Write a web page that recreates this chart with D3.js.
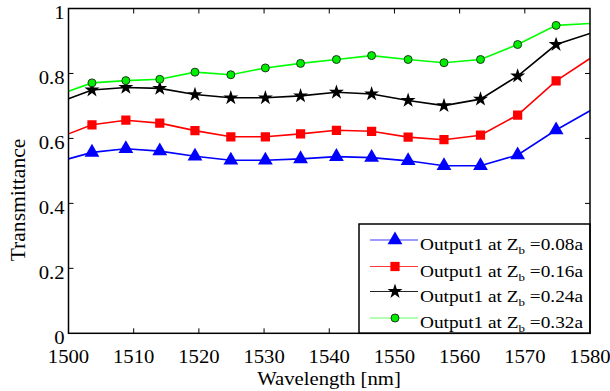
<!DOCTYPE html>
<html><head><meta charset="utf-8">
<script src="https://cdn.jsdelivr.net/npm/d3@7"></script>
<style>
html,body{margin:0;padding:0;background:#fff;}
</style></head>
<body>
<svg id="chart" width="610" height="391" font-family="'Liberation Serif', 'Times New Roman', Times, 'DejaVu Serif', serif"></svg>
<script>
const wavelengths = [1500, 1503.6, 1508.8, 1514, 1519.4, 1524.9, 1530.2, 1535.6, 1541.1, 1546.5, 1552.1, 1557.6, 1563.2, 1568.9, 1574.8, 1580];
const blueValues  = [0.537, 0.557, 0.568, 0.561, 0.545, 0.533, 0.533, 0.537, 0.544, 0.541, 0.531, 0.516, 0.516, 0.549, 0.626, 0.685];
const redValues   = [0.614, 0.642, 0.656, 0.647, 0.624, 0.605, 0.605, 0.614, 0.625, 0.622, 0.604, 0.596, 0.610, 0.672, 0.777, 0.846];
const blackValues = [0.722, 0.749, 0.757, 0.754, 0.735, 0.725, 0.725, 0.731, 0.742, 0.737, 0.717, 0.701, 0.721, 0.792, 0.889, 0.923];
const greenValues = [0.745, 0.771, 0.778, 0.782, 0.804, 0.796, 0.817, 0.831, 0.843, 0.855, 0.843, 0.833, 0.843, 0.889, 0.948, 0.954];
const seriesNames = ["0.08a", "0.16a", "0.24a", "0.32a"];
const xTicks = [1500, 1510, 1520, 1530, 1540, 1550, 1560, 1570, 1580];
const yTicks = [0, 0.2, 0.4, 0.6, 0.8, 1];
const yTickLabels = ["0", "0.2", "0.4", "0.6", "0.8", "1"];

const series = [
  {name: seriesNames[0], values: blueValues,  color: "#0000ff", legendColor:"#3a3aff", symbol: d3.symbolTriangle, size: 95,  fill: "#0000ff", stroke: "none"},
  {name: seriesNames[1], values: redValues,   color: "#ff0000", legendColor:"#ff3a3a", symbol: d3.symbolSquare,   size: 85,  fill: "#ff0000", stroke: "none"},
  {name: seriesNames[2], values: blackValues, color: "#000000", legendColor:"#222222", symbol: d3.symbolStar,     size: 70,  fill: "#000000", stroke: "none"},
  {name: seriesNames[3], values: greenValues, color: "#00ff00", legendColor:"#66ff66", symbol: d3.symbolCircle,   size: 50,  fill: "#00ee00", stroke: "#1a3a1a"}
];

const L = 68.5, R = 590, T = 8.5, B = 333.3;
const SX = 1.15; // horizontal stretch of the reference text
const svg = d3.select("#chart");
const x = d3.scaleLinear().domain([1500, 1580]).range([L, R]);
const y = d3.scaleLinear().domain([0, 1]).range([B, T]);

svg.append("defs").append("clipPath").attr("id","clip")
  .append("rect").attr("x", L).attr("y", T).attr("width", R-L).attr("height", B-T);

// ticks (inside, all four sides)
const tk = 5;
const g = svg.append("g");
xTicks.forEach(t => {
  if (t === 1500 || t === 1580) return;
  g.append("line").attr("x1", x(t)).attr("x2", x(t)).attr("y1", B).attr("y2", B - tk).attr("stroke","#000").attr("stroke-width",1);
  g.append("line").attr("x1", x(t)).attr("x2", x(t)).attr("y1", T).attr("y2", T + tk).attr("stroke","#000").attr("stroke-width",1);
});
yTicks.forEach(t => {
  if (t === 0 || t === 1) return;
  g.append("line").attr("x1", L).attr("x2", L + tk).attr("y1", y(t)).attr("y2", y(t)).attr("stroke","#000").attr("stroke-width",1);
  g.append("line").attr("x1", R).attr("x2", R - tk).attr("y1", y(t)).attr("y2", y(t)).attr("stroke","#000").attr("stroke-width",1);
});

// tick labels
xTicks.forEach(t => {
  svg.append("text").attr("transform", `translate(${x(t)},363) scale(${SX},1)`).attr("text-anchor","middle")
    .style("font-size","18px").text(String(t));
});
yTicks.forEach((t,i) => {
  svg.append("text").attr("transform", `translate(${L - 4},${y(t) + 10.5}) scale(${SX},1)`).attr("text-anchor","end")
    .style("font-size","18px").text(yTickLabels[i]);
});

// axis titles
svg.append("text").attr("transform", `translate(329,385) scale(${SX},1)`).attr("text-anchor","middle")
  .style("font-size","18px").text("Wavelength [nm]");
svg.append("text").attr("transform","translate(25,200) rotate(-90) scale(1.2,1.12)").attr("text-anchor","middle")
  .style("font-size","18px").text("Transmittance");

// lines
const lineGen = d3.line().x((d,i) => x(wavelengths[i])).y(d => y(d));
const plot = svg.append("g").attr("clip-path","url(#clip)");
series.forEach(s => {
  plot.append("path").datum(s.values).attr("d", lineGen)
    .attr("fill","none").attr("stroke", s.color).attr("stroke-width",1.6);
});
series.forEach(s => {
  const sym = d3.symbol().type(s.symbol).size(s.size);
  s.values.forEach((v,i) => {
    if (i === 0 || i === s.values.length - 1) return;
    plot.append("path").attr("d", sym())
      .attr("transform", `translate(${x(wavelengths[i])},${y(v)})`)
      .attr("fill", s.fill).attr("stroke", s.stroke).attr("stroke-width", 1);
  });
});

// legend
const lgL = 359, lgT = 224;
svg.append("rect").attr("x", lgL).attr("y", lgT).attr("width", R - lgL).attr("height", B - lgT)
  .attr("fill","#fff").attr("stroke","#000").attr("stroke-width",1.5);
const rowY = [240, 266.5, 291.5, 318];
series.forEach((s,i) => {
  const yy = rowY[i];
  svg.append("line").attr("x1", 370).attr("x2", 418).attr("y1", yy).attr("y2", yy)
    .attr("stroke", s.legendColor).attr("stroke-width",1.2);
  const sym = d3.symbol().type(s.symbol).size(s.size);
  svg.append("path").attr("d", sym()).attr("transform", `translate(395,${yy})`)
    .attr("fill", s.fill).attr("stroke", s.stroke).attr("stroke-width",1);
  const t = svg.append("text").attr("transform", `translate(420,${yy + 10}) scale(1.17,1)`).style("font-size","16.5px");
  t.append("tspan").text("Output1 at Z");
  t.append("tspan").attr("dy", 4).style("font-size","11px").text("b");
  t.append("tspan").attr("dy", -4).text(" =" + s.name);
});

// frame
svg.append("rect").attr("x", L).attr("y", T).attr("width", R - L).attr("height", B - T)
  .attr("fill","none").attr("stroke","#000").attr("stroke-width",1.5);
</script>
</body></html>
